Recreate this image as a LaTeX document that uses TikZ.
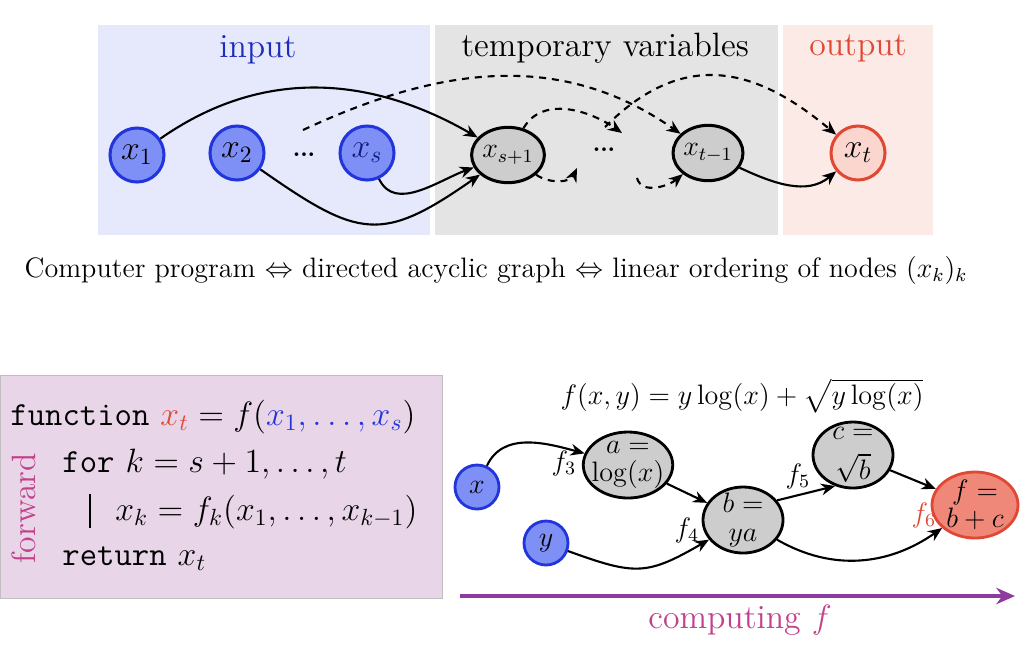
\documentclass[tikz,border=0pt]{standalone}
\usepackage{amsmath,amssymb}
\definecolor{inbg}{RGB}{230,233,251}
\definecolor{tmpbg}{RGB}{228,228,228}
\definecolor{outbg}{RGB}{252,234,231}
\definecolor{inblue}{RGB}{34,52,220}
\definecolor{infill}{RGB}{126,143,245}
\definecolor{tmpfill}{RGB}{205,205,205}
\definecolor{outred}{RGB}{224,72,52}
\definecolor{outfill}{RGB}{250,214,207}
\definecolor{ffill}{RGB}{240,136,122}
\definecolor{codebg}{RGB}{232,214,232}
\definecolor{fwdpink}{RGB}{194,64,140}
\definecolor{comppurple}{RGB}{142,58,158}
\usetikzlibrary{arrows.meta,positioning,shapes.geometric}

\begin{document}
\begin{tikzpicture}[x=0.015cm, y=-0.015cm,
    innode/.style={circle, draw=inblue, fill=infill, line width=1.3pt,
                   minimum size=0.81cm, inner sep=0pt, font=\Large},
    tmpnode/.style={ellipse, draw=black, fill=tmpfill, line width=1.3pt,
                    minimum width=0.99cm, minimum height=0.83cm, inner sep=0pt, font=\large},
    outnode/.style={circle, draw=outred, fill=outfill, line width=1.3pt,
                    minimum size=0.81cm, inner sep=0pt, font=\Large},
    smallin/.style={circle, draw=inblue, fill=infill, line width=1.2pt,
                    minimum size=0.66cm, inner sep=0pt, font=\large},
    opnode/.style={ellipse, draw=black, fill=tmpfill, line width=1.2pt,
                   minimum width=1.2cm, minimum height=0.99cm, inner xsep=-2pt, inner ysep=-6pt,
                   align=center, font=\large},
    flabel/.style={font=\large, inner sep=1pt},
    link/.style={-{Stealth[length=6pt,width=5pt]}, line width=0.9pt},
    dlink/.style={link, dash pattern=on 3pt off 2.5pt},
    codeline/.style={anchor=base west, font=\Large, inner sep=0pt}
  ]
    \useasboundingbox (0,0) rectangle (1024,652);

    % Backgrounds of the three groups
    \fill[inbg] (98,25) rectangle (430,235);
    \fill[tmpbg] (435,25) rectangle (778,235);
    \fill[outbg] (783,25) rectangle (933,235);
    \node[text=inblue!85!black, font=\Large] (inlabel) at (258,50) {input};
    \node[font=\Large] (tmplabel) at (605,48) {temporary variables};
    \node[text=outred, font=\Large] (outlabel) at (858,48) {output};

    % Nodes of the program graph
    \node[innode] (x1) at (137,155) {$x_1$};
    \node[innode] (x2) at (237,153) {$x_2$};
    \node (dots1) at (304,155) {\bfseries ...};
    \node[innode, text=inblue!55!black] (xs) at (367,153) {$x_s$};
    \node[tmpnode] (xs1) at (508,155) {$x_{s+1}$};
    \node (dots2) at (604,150) {\bfseries ...};
    \node[tmpnode] (xt1) at (708,153) {$x_{t-1}$};
    \node[outnode] (xt) at (858,153) {$x_t$};

    \coordinate (dA) at (303,130);
    \coordinate (dB) at (622,133);
    \coordinate (dC) at (605,127);
    \coordinate (dD) at (577,168);
    \coordinate (dE) at (637,178);

    \draw[link] (x1) to[out=35,in=150] (xs1);
    \draw[link] (x2) to[out=-35,in=-145,looseness=1.4] (xs1);
    \draw[link] (xs) to[out=-65,in=-160] (xs1);
    \draw[link] (xt1) to[out=-25,in=-140] (xt);
    \draw[dlink] (dA) to[out=25,in=145] (xt1);
    \draw[dlink] (xs1) to[out=60,in=145] (dB);
    \draw[dlink] (dC) to[out=45,in=140,looseness=1.2] (xt);
    \draw[dlink] (xs1) to[out=-35,in=-115] (dD);
    \draw[dlink] (dE) to[out=-75,in=-140] (xt1);

    \node[font=\large] (caption) at (496,270)
      {Computer program $\Leftrightarrow$ directed acyclic graph $\Leftrightarrow$ linear ordering of nodes $(x_k)_k$};

    % Pseudo code
    \filldraw[fill=codebg, draw=black!25] (0,375) rectangle (442,598);
    \node[codeline] (fnline) at (10,425)
      {\texttt{function} $\color{outred}x_t\color{black} = f(\color{inblue}x_1,\ldots,x_s\color{black})$};
    \node[codeline] (forline) at (62,472) {\texttt{for} $k = s+1,\ldots,t$};
    \node[codeline] (bodyline) at (115,520) {$x_k = f_k(x_1,\ldots,x_{k-1})$};
    \node[codeline] (retline) at (62,565) {\texttt{return} $x_t$};
    \draw[line width=0.9pt] (90,494) -- (90,528);
    \node[rotate=90, text=fwdpink, font=\Large] (fwdlabel) at (24,508) {forward};

    % Example graph
    \node[font=\large] (formula) at (742,396) {$f(x,y) = y\log(x) + \sqrt{y\log(x)}$};
    \node[smallin] (nx) at (477,487) {$x$};
    \node[smallin] (ny) at (546,543) {$y$};
    \node[opnode, minimum width=1.29cm] (na) at (628,465) {$a =$\\[-2pt]$\log(x)$};
    \node[opnode] (nb) at (743,520) {$b =$\\[-2pt]$ya$};
    \node[opnode] (nc) at (853,455) {$c =$\\[3pt]$\sqrt{b}$};
    \node[opnode, minimum width=1.29cm, draw=outred, fill=ffill] (nf) at (975,505) {$f =$\\[-2pt]$b+c$};
    \node[flabel] (f3) at (564,463) {$f_3$};
    \node[flabel] (f4) at (687,530) {$f_4$};
    \node[flabel] (f5) at (798,476) {$f_5$};
    \node[flabel, text=outred] (f6) at (924,515) {$f_6$};

    \draw[link] (nx) to[out=65,in=165] (na);
    \draw[link] (na) -- (nb);
    \draw[link] (ny) to[out=-20,in=-150,looseness=1.3] (nb);
    \draw[link] (nb.30) -- (nc.-120);
    \draw[link] (nc) -- (nf);
    \draw[link] (nb) to[out=-30,in=-145] (nf);

    \coordinate (cstart) at (460,596);
    \coordinate (cend) at (1015,596);
    \draw[-{Stealth[length=8pt,width=7pt]}, line width=1.5pt, comppurple] (cstart) -- (cend);
    \node[text=fwdpink, font=\Large] (complabel) at (740,620) {computing $f$};
  \end{tikzpicture}
\end{document}
